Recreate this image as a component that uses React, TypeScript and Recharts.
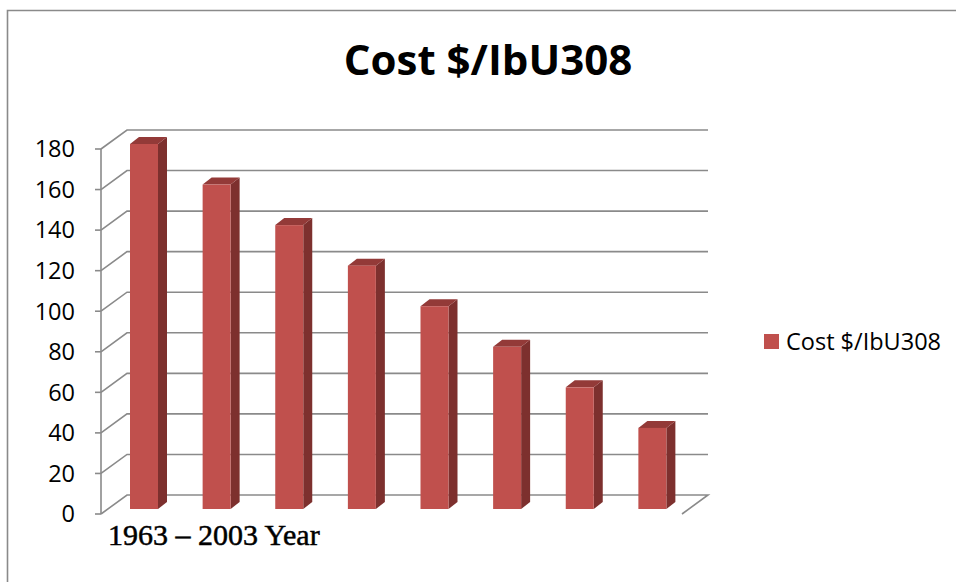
import { BarChart, Bar, XAxis, YAxis, CartesianGrid, Legend } from "recharts";

const categories = ["1", "2", "3", "4", "5", "6", "7", "8"];
const costValues = [180, 160, 140, 120, 100, 80, 60, 40];
const yTicks = [0, 20, 40, 60, 80, 100, 120, 140, 160, 180];
const seriesName = "Cost $/IbU308";
const chartTitle = "Cost $/IbU308";
const xAxisTitle = "1963 \u2013 2003 Year";

const data = categories.map((c, i) => ({ category: c, cost: costValues[i] }));

const WIDTH = 956;
const HEIGHT = 582;
const MARGIN = { top: 149, right: 274, bottom: 68, left: 0 };
const PLOT_BOTTOM = HEIGHT - MARGIN.bottom;

// fake 3D: back wall offset and bar depth
const WALL_DX = 26;
const WALL_DY = 19;
const BAR_SHIFT_X = 7;
const BAR_SHIFT_Y = 5;
const BAR_DX = 9;
const BAR_DY = 7;

const GRID = "#8a8a8a";
const RED_FRONT = "#c0504d";
const RED_SIDE = "#7d302e";
const RED_TOP = "#933a38";

const WallLine = (props: any) => {
  const { x1, x2, y1 } = props;
  const by = y1 - WALL_DY;
  let d = `M${x1},${y1} L${x1 + WALL_DX},${by} L${x2 + WALL_DX},${by}`;
  // floor edge on the right
  if (Math.abs(y1 - PLOT_BOTTOM) < 1) d += ` L${x2},${y1}`;
  return <path key={props.key} d={d} fill="none" stroke={GRID} strokeWidth={1.6} />;
};

const Bar3D = (props: any) => {
  const { x, y, width, height } = props;
  const x0 = x + BAR_SHIFT_X;
  const top = y - BAR_SHIFT_Y;
  const bottom = y + height - BAR_SHIFT_Y;
  const x1 = x0 + width;
  return (
    <g>
      <polygon
        points={`${x1},${top} ${x1 + BAR_DX},${top - BAR_DY} ${x1 + BAR_DX},${bottom - BAR_DY} ${x1},${bottom}`}
        fill={RED_SIDE}
      />
      <polygon
        points={`${x0},${top} ${x0 + BAR_DX},${top - BAR_DY} ${x1 + BAR_DX},${top - BAR_DY} ${x1},${top}`}
        fill={RED_TOP}
      />
      <rect x={x0} y={top} width={width} height={bottom - top} fill={RED_FRONT} />
    </g>
  );
};

const LegendBox = () => (
  <div
    style={{
      display: "flex",
      alignItems: "center",
      fontFamily: "Open Sans",
      fontSize: 23.5,
      color: "#000",
      whiteSpace: "nowrap",
    }}
  >
    <span style={{ width: 15, height: 15, background: RED_FRONT, marginRight: 7 }} />
    <span>{seriesName}</span>
  </div>
);

export default function App() {
  return (
    <div style={{ position: "absolute", left: 0, top: 0, width: WIDTH, height: HEIGHT, background: "#fff" }}>
      <BarChart width={WIDTH} height={HEIGHT} data={data} margin={MARGIN} barSize={28}>
        <CartesianGrid vertical={false} horizontal={(p: any) => <WallLine {...p} />} />
        <XAxis dataKey="category" hide />
        <YAxis
          width={101}
          domain={[0, 180]}
          ticks={yTicks}
          interval={0}
          tickSize={6}
          tickMargin={20}
          axisLine={{ stroke: GRID, strokeWidth: 1.6 }}
          tickLine={{ stroke: GRID, strokeWidth: 1.6 }}
          tick={{ fill: "#000", fontSize: 23.5, fontFamily: "Open Sans" }}
        />
        <Legend
          layout="horizontal"
          align="center"
          verticalAlign="middle"
          content={() => <LegendBox />}
          wrapperStyle={{ left: 764, top: 325, width: "auto" }}
        />
        <Bar dataKey="cost" name={seriesName} shape={(p: any) => <Bar3D {...p} />} isAnimationActive={false} />
      </BarChart>
      <svg
        width={WIDTH}
        height={HEIGHT}
        style={{ position: "absolute", left: 0, top: 0, pointerEvents: "none" }}
      >
        <path d={`M7.5,${HEIGHT} L7.5,10.5 L${WIDTH},10.5`} fill="none" stroke="#8a8a8a" strokeWidth={1.6} />
        <text x={488} y={75} textAnchor="middle" fontFamily="Open Sans" fontWeight="bold" fontSize={42} fill="#000">
          {chartTitle}
        </text>
        <text
          x={108}
          y={545}
          fontFamily="Liberation Serif"
          fontSize={30}
          fill="#000"
          stroke="#000"
          strokeWidth={0.5}
        >
          {xAxisTitle}
        </text>
      </svg>
    </div>
  );
}
